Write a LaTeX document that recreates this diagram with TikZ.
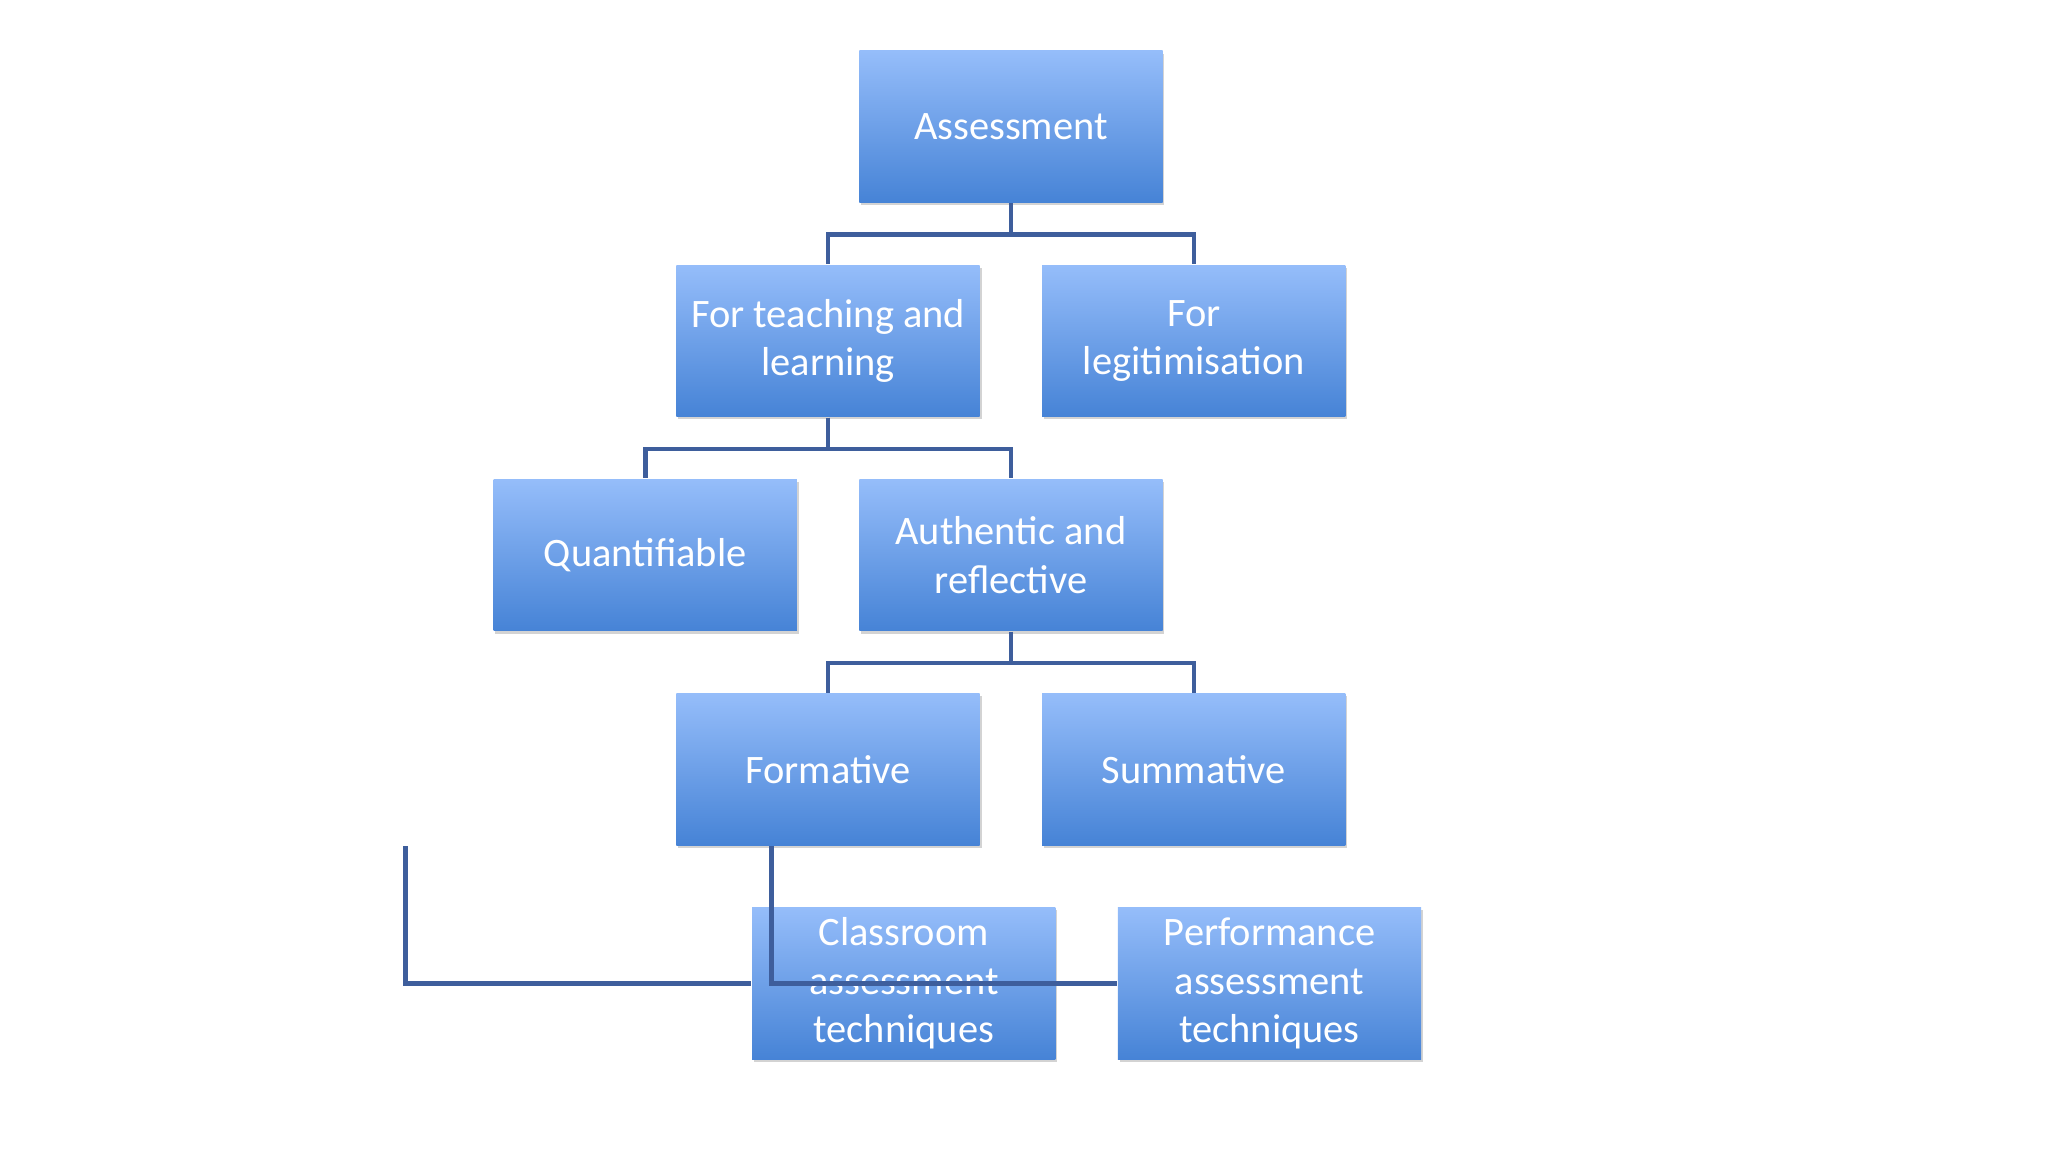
\documentclass[tikz,border=0pt]{standalone}
\usepackage{fontspec}
\setmainfont{Carlito}
\usetikzlibrary{shadows}
\definecolor{topc}{HTML}{95BDFA}
\definecolor{botc}{HTML}{4683D6}
\definecolor{linec}{HTML}{3E5E9C}
\tikzset{
 box/.style={minimum width=2.32cm,minimum height=1.16cm,inner sep=0pt,top color=topc,bottom color=botc,
  text=white,align=center,font=\fontsize{8.8pt}{10.6pt}\selectfont,
  drop shadow={shadow xshift=0.4pt,shadow yshift=-0.6pt,opacity=0.35}},
 conn/.style={draw=linec,line width=0.35mm}
}
\begin{document}
\begin{tikzpicture}[x=0.01cm,y=-0.01cm]
\useasboundingbox (0,0) rectangle (1568,882);
\node[box] (a) at (774,97) {Assessment};
\node[box] (t) at (634,261) {For teaching and\\learning};
\node[box] (l) at (914,261) {For\\legitimisation};
\node[box] (q) at (494,425) {Quantifiable};
\node[box] (r) at (774,425) {Authentic and\\reflective};
\node[box] (f) at (634,589) {Formative};
\node[box] (s) at (914,589) {Summative};
\node[box] (c) at (692,753) {Classroom\\assessment\\techniques};
\node[box] (p) at (972,753) {Performance\\assessment\\techniques};
\draw[conn] (a.south) -- ++(0,24) -| (t.north);
\draw[conn] (a.south) -- ++(0,24) -| (l.north);
\draw[conn] (t.south) -- ++(0,24) -| (q.north);
\draw[conn] (t.south) -- ++(0,24) -| (r.north);
\draw[conn] (r.south) -- ++(0,24) -| (f.north);
\draw[conn] (r.south) -- ++(0,24) -| (s.north);
\coordinate (fb) at ([xshift=-92]f.south);
\coordinate (sb) at ([xshift=-92]s.south);
\draw[conn] (fb) |- (c.west);
\draw[conn] (sb) |- (p.west);
\end{tikzpicture}
\end{document}
